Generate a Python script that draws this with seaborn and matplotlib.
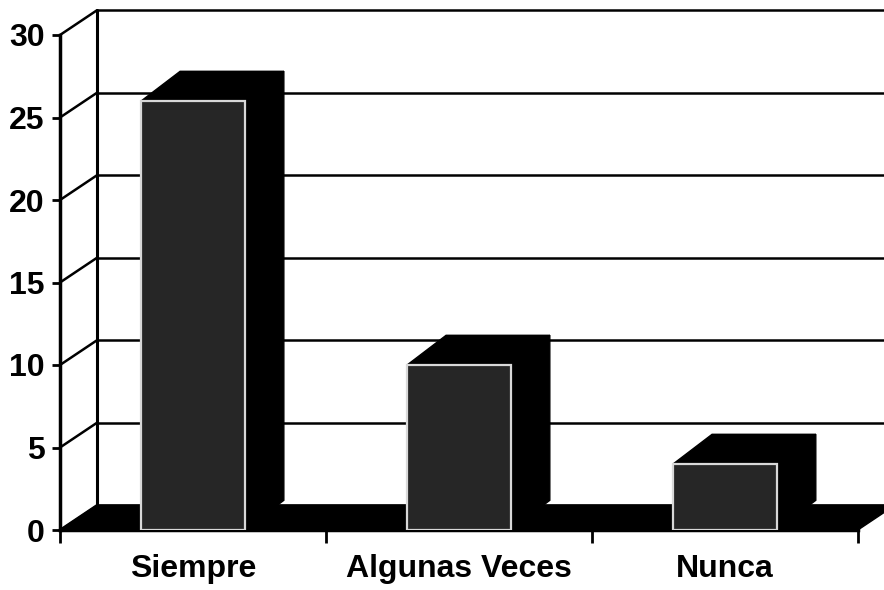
import matplotlib
matplotlib.use("Agg")
import matplotlib.pyplot as plt
from matplotlib.patches import Polygon
import seaborn as sns
import pandas as pd

categories = ["Siempre", "Algunas Veces", "Nunca"]
values = [26, 10, 4]
y_ticks = [0, 5, 10, 15, 20, 25, 30]

sns.set_theme(style="white")
plt.rcParams['font.family'] = ['Liberation Sans', 'DejaVu Sans']
plt.rcParams['text.color'] = 'black'
plt.rcParams['xtick.color'] = 'black'
plt.rcParams['ytick.color'] = 'black'

fig = plt.figure(figsize=(8.84, 5.90), dpi=100)
ax = fig.add_axes([60/884, 60/590, (884-60)/884, 495/590])

df = pd.DataFrame({"cat": categories, "val": values})
sns.barplot(data=df, x="cat", y="val", ax=ax, width=0.39,
            color="#262626", edgecolor="#d8d8d8", linewidth=1.6,
            saturation=1, zorder=5)

ax.set_xlim(-0.5, 2.598)
ax.set_ylim(0, 30)

# wall offsets (depth)
dxw, dyw = 37/266, 1.5
# bar depth
dxb, dyb = 39/266, 1.8

# back wall gridlines and side wall connectors
for v in y_ticks:
    ax.plot([-0.5 + dxw, 3.2], [v + dyw, v + dyw], color="black", lw=1.8,
            clip_on=False, zorder=1)
    ax.plot([-0.5, -0.5 + dxw], [v, v + dyw], color="black", lw=1.8,
            clip_on=False, zorder=1)
ax.plot([-0.5 + dxw, -0.5 + dxw], [dyw, 30 + dyw], color="black", lw=2.2,
        clip_on=False, zorder=1)

# floor
floor = Polygon([(-0.5, 0), (2.5, 0), (2.5 + dxw, dyw), (-0.5 + dxw, dyw)],
                closed=True, facecolor="black", edgecolor="black",
                clip_on=False, zorder=2)
ax.add_patch(floor)

# 3D faces from bar patches
for p in list(ax.patches):
    if p is floor:
        continue
    x0 = p.get_x()
    w = p.get_width()
    h = p.get_height()
    x1 = x0 + w
    top = Polygon([(x0, h), (x1, h), (x1 + dxb, h + dyb), (x0 + dxb, h + dyb)],
                  closed=True, facecolor="black", edgecolor="black",
                  clip_on=False, zorder=4)
    side = Polygon([(x1, 0), (x1, h), (x1 + dxb, h + dyb), (x1 + dxb, dyb)],
                   closed=True, facecolor="black", edgecolor="black",
                   clip_on=False, zorder=4)
    ax.add_patch(top)
    ax.add_patch(side)

# axes styling
for s in ["top", "right"]:
    ax.spines[s].set_visible(False)
ax.spines["left"].set_linewidth(2.5)
ax.spines["left"].set_color("black")
ax.spines["bottom"].set_linewidth(2.5)
ax.spines["bottom"].set_color("black")
ax.spines["bottom"].set_bounds(-0.5, 2.5)

ax.set_yticks(y_ticks)
ax.set_yticklabels([str(t) for t in y_ticks], fontsize=23, fontweight="bold",
                   color="black")
ax.tick_params(axis="y", direction="out", length=6, width=2, pad=5, color="black", left=True)

ax.set_xticks([0, 1, 2])
ax.set_xticklabels(categories, fontsize=23, fontweight="bold", color="black")
ax.tick_params(axis="x", which="major", length=0, pad=17)
ax.set_xticks([-0.5, 0.5, 1.5, 2.5], minor=True)
ax.tick_params(axis="x", which="minor", direction="out", length=9, width=2,
               color="black", bottom=True)

ax.set_xlabel("")
ax.set_ylabel("")
ax.grid(False)

fig.savefig("out.png", dpi=100)
